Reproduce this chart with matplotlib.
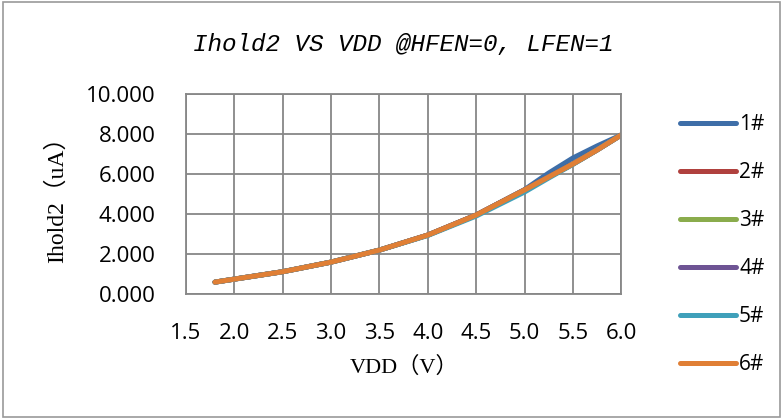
import matplotlib.pyplot as plt
from matplotlib import patches

## data
vdd = [1.8, 2.0, 2.5, 3.0, 3.5, 4.0, 4.5, 5.0, 5.25, 5.5, 5.75, 6.0]
ihold_1 = [0.60, 0.75, 1.12, 1.60, 2.20, 2.95, 3.95, 5.22, 6.05, 6.80, 7.40, 7.95]
ihold_2 = [0.60, 0.75, 1.12, 1.60, 2.20, 2.95, 3.95, 5.20, 5.85, 6.50, 7.20, 7.95]
ihold_3 = [0.60, 0.75, 1.12, 1.60, 2.20, 2.95, 3.95, 5.20, 5.85, 6.50, 7.20, 7.95]
ihold_4 = [0.60, 0.75, 1.12, 1.60, 2.20, 2.95, 3.95, 5.20, 5.85, 6.50, 7.20, 7.95]
ihold_5 = [0.60, 0.75, 1.12, 1.60, 2.20, 2.93, 3.90, 5.10, 5.80, 6.48, 7.20, 7.95]
ihold_6 = [0.60, 0.75, 1.12, 1.60, 2.20, 2.95, 3.95, 5.20, 5.85, 6.50, 7.20, 7.95]
series = [ihold_1, ihold_2, ihold_3, ihold_4, ihold_5, ihold_6]
labels = ['1#', '2#', '3#', '4#', '5#', '6#']
colors = ['#3E6EA8', '#B0413E', '#8AAC4C', '#6E5494', '#3FA0BA', '#E07F35']

xticks = [1.5, 2.0, 2.5, 3.0, 3.5, 4.0, 4.5, 5.0, 5.5, 6.0]
yticks = [0, 2, 4, 6, 8, 10]

fig = plt.figure(figsize=(7.83, 4.19), dpi=100)
ax = fig.add_axes([0.2375, 0.298, 0.556, 0.478])

for ys, lab, c in zip(series, labels, colors):
    ax.plot(vdd, ys, color=c, linewidth=3.6, solid_capstyle='round', label=lab)

ax.set_xlim(1.5, 6.0)
ax.set_ylim(0, 10)
ax.set_xticks(xticks)
ax.set_yticks(yticks)
ax.set_xticklabels([f'{v:.1f}' for v in xticks])
ax.set_yticklabels([f'{v:.3f}' for v in yticks])
ax.tick_params(length=0, labelsize=16, pad=22)
ax.tick_params(axis='x', pad=21)
for t in ax.get_xticklabels() + ax.get_yticklabels():
    t.set_family('Open Sans')
ax.grid(True, color='#878787', linewidth=1.3)
ax.set_axisbelow(True)
for s in ax.spines.values():
    s.set_color('#878787')
    s.set_linewidth(1.3)

serif = ['Liberation Serif', 'Noto Sans CJK SC']
ax.set_xlabel('VDD（V）', family=serif, fontsize=16, labelpad=9)
ax.set_ylabel('Ihold2（uA）', family=serif, fontsize=17, labelpad=13)

fig.text(0.515, 0.893, 'Ihold2 VS VDD @HFEN=0, LFEN=1', family='Liberation Mono',
         style='italic', fontsize=17.5, ha='center', va='center')

fig.legend(loc='upper left', bbox_to_anchor=(0.868, 0.728), frameon=False,
           prop={'family': 'Open Sans', 'size': 15}, handlelength=2.7,
           handletextpad=0.15, labelspacing=1.3, borderaxespad=0, borderpad=0)

fig.add_artist(patches.Rectangle((0.004, 0.004), 0.992, 0.992, transform=fig.transFigure,
                                 fill=False, edgecolor='#9A9A9A', linewidth=1.2))

fig.savefig('out.png', dpi=100)
